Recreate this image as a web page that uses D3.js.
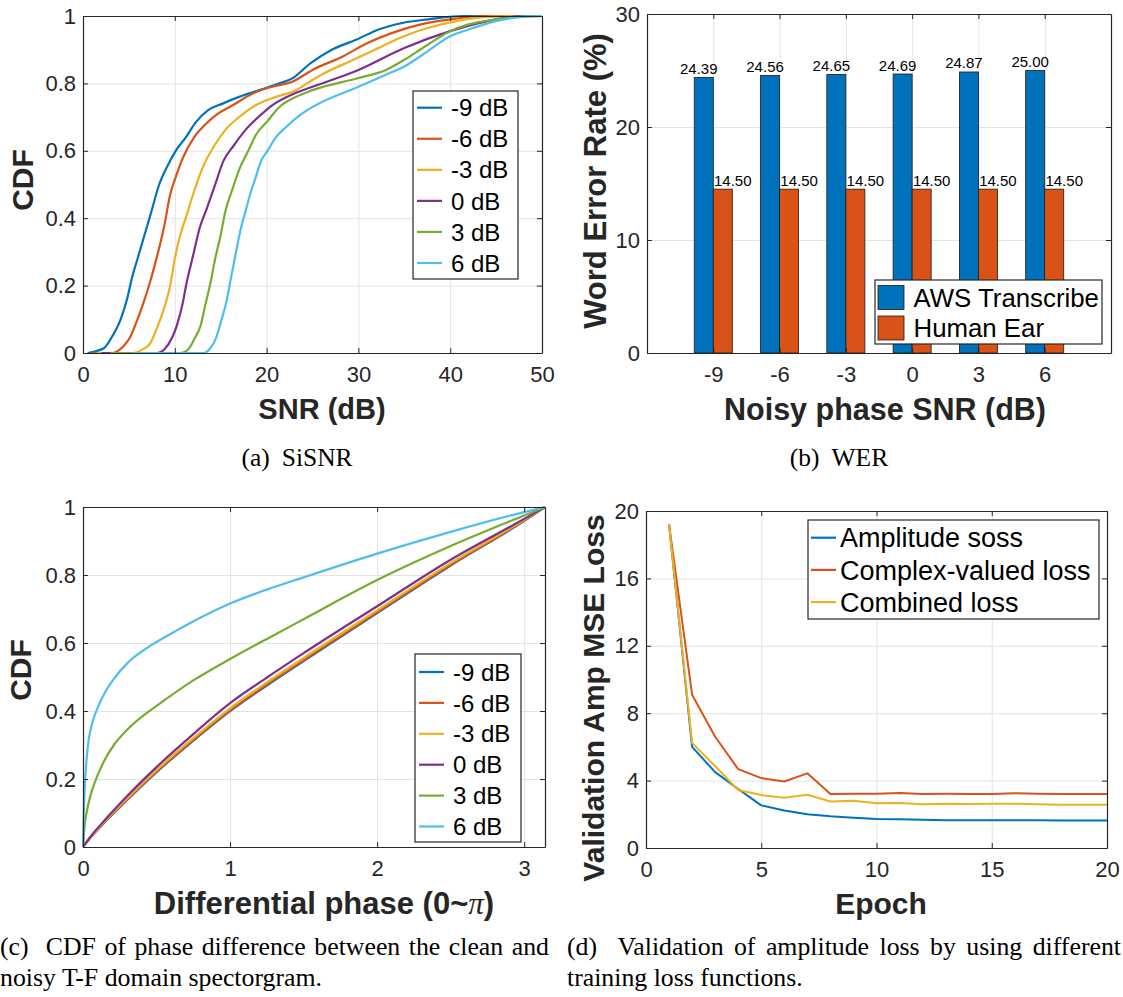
<!DOCTYPE html>
<html>
<head>
<meta charset="utf-8">
<script src="https://cdn.jsdelivr.net/npm/d3@7"></script>
<style>
  body { margin: 0; background: #fff; }
  svg { display: block; }
</style>
</head>
<body>
<script>
// ---------------- data ----------------
const noiseLevels = ["-9 dB", "-6 dB", "-3 dB", "0 dB", "3 dB", "6 dB"];
const seriesColors = ["#0072BD", "#D95319", "#EDB120", "#7E2F8E", "#77AC30", "#4DBEEE"];

// (a) CDF of SiSNR (dB) for each noisy-phase level
const sisnrX_m9 = [0.5, 2.3, 3.2, 4.1, 4.8, 5.4, 6.0, 6.7, 7.4, 8.3, 9.2, 10.1, 11.2, 12.3, 13.6, 15.2, 17.0, 19.2, 21.4, 22.8, 24.8, 27.1, 29.8, 32.2, 34.9, 37.6, 41.5, 50];
const sisnrY_m9 = [0, 0.015, 0.05, 0.1, 0.16, 0.23, 0.285, 0.35, 0.415, 0.5, 0.555, 0.6, 0.64, 0.685, 0.72, 0.74, 0.76, 0.78, 0.8, 0.815, 0.86, 0.9, 0.93, 0.96, 0.98, 0.99, 1.0, 1];
const sisnrX_m6 = [1.0, 3.2, 4.4, 5.1, 5.8, 6.6, 7.3, 8.0, 8.8, 9.5, 10.2, 10.9, 12.1, 13.4, 14.7, 16.3, 18.5, 20.6, 22.8, 25.0, 28.3, 31.0, 33.7, 36.8, 40.0, 43.9, 50];
const sisnrY_m6 = [0, 0, 0.02, 0.045, 0.09, 0.15, 0.21, 0.28, 0.37, 0.47, 0.53, 0.58, 0.64, 0.68, 0.71, 0.735, 0.77, 0.79, 0.805, 0.84, 0.88, 0.92, 0.95, 0.975, 0.99, 1.0, 1];
const sisnrX_m3 = [1.5, 5.5, 6.6, 7.3, 8.0, 8.8, 9.5, 10.0, 10.6, 11.3, 12.1, 13.2, 14.3, 15.6, 17.0, 18.8, 21.0, 23.2, 25.0, 26.0, 29.1, 31.8, 34.5, 37.6, 40.7, 44.6, 50];
const sisnrY_m3 = [0, 0, 0.012, 0.028, 0.07, 0.13, 0.2, 0.28, 0.35, 0.41, 0.48, 0.56, 0.615, 0.665, 0.7, 0.735, 0.76, 0.78, 0.81, 0.826, 0.866, 0.9, 0.935, 0.965, 0.985, 0.998, 1];
const sisnrX_0 = [2.0, 8.0, 8.9, 9.7, 10.2, 10.8, 11.3, 12.0, 12.7, 13.5, 14.4, 15.3, 16.4, 17.8, 19.3, 20.6, 22.6, 25.0, 30.0, 35.0, 40.0, 45.0, 48.0, 50];
const sisnrY_0 = [0, 0, 0.012, 0.045, 0.08, 0.14, 0.21, 0.29, 0.37, 0.43, 0.5, 0.57, 0.615, 0.665, 0.705, 0.735, 0.765, 0.79, 0.84, 0.905, 0.955, 0.99, 1.0, 1];
const sisnrX_p3 = [3.0, 10.6, 11.5, 12.2, 12.8, 13.3, 13.9, 14.4, 15.0, 15.5, 16.2, 17.1, 18.0, 18.9, 20.0, 21.4, 23.2, 25.0, 30.0, 33.0, 35.0, 37.0, 40.0, 42.0, 45.0, 48.0, 50];
const sisnrY_p3 = [0, 0, 0.012, 0.045, 0.08, 0.14, 0.21, 0.28, 0.35, 0.42, 0.48, 0.55, 0.6, 0.65, 0.685, 0.73, 0.76, 0.78, 0.816, 0.84, 0.87, 0.905, 0.955, 0.975, 0.99, 0.998, 1];
const sisnrX_p6 = [5.5, 13.1, 13.8, 14.5, 15.0, 15.6, 16.1, 16.6, 17.2, 17.7, 18.3, 18.8, 19.4, 20.1, 21.0, 22.1, 23.6, 25.0, 30.0, 33.0, 35.0, 37.0, 40.0, 42.0, 45.0, 48.0, 50];
const sisnrY_p6 = [0, 0, 0.012, 0.045, 0.09, 0.15, 0.22, 0.29, 0.37, 0.42, 0.48, 0.52, 0.57, 0.6, 0.64, 0.67, 0.705, 0.73, 0.79, 0.826, 0.85, 0.885, 0.94, 0.96, 0.985, 0.998, 1];

// (b) word error rate (%)
const werCategories = ["-9", "-6", "-3", "0", "3", "6"];
const werAws = [24.39, 24.56, 24.65, 24.69, 24.87, 25.00];
const werHuman = [14.50, 14.50, 14.50, 14.50, 14.50, 14.50];
const werSeriesNames = ["AWS Transcribe", "Human Ear"];

// (c) CDF of the differential phase (rad)
const phaseX = [0, 0.05, 0.15, 0.3, 0.5, 0.75, 1.0, 1.25, 1.5, 2.0, 2.5, 3.0, Math.PI];
const phaseY_m9 = [0, 0.027, 0.074, 0.138, 0.22, 0.313, 0.4, 0.475, 0.547, 0.688, 0.828, 0.959, 1];
const phaseY_m6 = [0, 0.028, 0.075, 0.14, 0.222, 0.315, 0.402, 0.478, 0.55, 0.69, 0.83, 0.96, 1];
const phaseY_m3 = [0, 0.029, 0.077, 0.143, 0.226, 0.32, 0.408, 0.484, 0.556, 0.696, 0.835, 0.962, 1];
const phaseY_0 = [0, 0.03, 0.08, 0.15, 0.235, 0.332, 0.423, 0.498, 0.57, 0.708, 0.845, 0.965, 1];
const phaseX_p3 = [0, 0.01, 0.024, 0.05, 0.08, 0.14, 0.21, 0.3, 0.4, 0.5, 0.75, 1.0, 1.25, 1.5, 2.0, 2.5, 3.0, Math.PI];
const phaseY_p3 = [0, 0.06, 0.1, 0.15, 0.19, 0.25, 0.3, 0.345, 0.383, 0.415, 0.49, 0.553, 0.612, 0.67, 0.785, 0.885, 0.975, 1];
const phaseX_p6 = [0, 0.005, 0.015, 0.034, 0.06, 0.1, 0.15, 0.22, 0.3, 0.4, 0.5, 0.65, 0.8, 1.0, 1.25, 1.5, 2.0, 2.5, 3.0, Math.PI];
const phaseY_p6 = [0, 0.1, 0.2, 0.3, 0.36, 0.41, 0.455, 0.5, 0.54, 0.575, 0.603, 0.64, 0.675, 0.716, 0.757, 0.793, 0.863, 0.927, 0.985, 1];

// (d) validation amplitude MSE loss per epoch
const epochs = [1, 2, 3, 4, 5, 6, 7, 8, 9, 10, 11, 12, 13, 14, 15, 16, 17, 18, 19, 20];
const lossAmplitude = [19.2, 6.0, 4.5, 3.5, 2.53, 2.23, 2.0, 1.88, 1.8, 1.72, 1.7, 1.67, 1.65, 1.65, 1.65, 1.64, 1.64, 1.63, 1.63, 1.63];
const lossComplex = [19.2, 9.1, 6.6, 4.68, 4.15, 3.95, 4.43, 3.2, 3.22, 3.22, 3.27, 3.2, 3.22, 3.21, 3.2, 3.25, 3.22, 3.21, 3.21, 3.21];
const lossCombined = [19.2, 6.24, 4.85, 3.44, 3.14, 2.98, 3.16, 2.76, 2.8, 2.66, 2.67, 2.6, 2.63, 2.61, 2.63, 2.62, 2.6, 2.56, 2.56, 2.57];
const lossNames = ["Amplitude soss", "Complex-valued loss", "Combined loss"];

// tick values
const sisnrTicks = [0, 10, 20, 30, 40, 50];
const cdfTicks = [0, 0.2, 0.4, 0.6, 0.8, 1];
const werTicks = [0, 10, 20, 30];
const werPositions = [1, 2, 3, 4, 5, 6];
const phaseTicks = [0, 1, 2, 3];
const epochTicks = [0, 5, 10, 15, 20];
const lossTicks = [0, 4, 8, 12, 16, 20];

// ---------------- drawing ----------------
const SANS = "'Liberation Sans', Arial, Helvetica, sans-serif";
const SERIF = "'Liberation Serif', 'Times New Roman', serif";
const AX = "#262626";
const GRID = "#e3e3e3";

const svg = d3.select("body").append("svg")
  .attr("width", 1123).attr("height", 997)
  .attr("font-family", SANS);

function makePanel(box, xDomain, yDomain, xTicks, yTicks) {
  const g = svg.append("g");
  const x = d3.scaleLinear().domain(xDomain).range([box.l, box.r]);
  const y = d3.scaleLinear().domain(yDomain).range([box.b, box.t]);
  const h = box.b - box.t, w = box.r - box.l;
  g.append("rect").attr("x", box.l).attr("y", box.t).attr("width", w).attr("height", h).attr("fill", "#fff");
  // grid
  g.append("g").attr("transform", `translate(0,${box.b})`)
    .call(d3.axisBottom(x).tickValues(xTicks).tickSize(-h).tickFormat(""))
    .call(s => s.select(".domain").remove())
    .call(s => s.selectAll("line").attr("stroke", GRID).attr("stroke-width", 1));
  g.append("g").attr("transform", `translate(${box.l},0)`)
    .call(d3.axisLeft(y).tickValues(yTicks).tickSize(-w).tickFormat(""))
    .call(s => s.select(".domain").remove())
    .call(s => s.selectAll("line").attr("stroke", GRID).attr("stroke-width", 1));
  return { g, x, y, box };
}

function drawFrame(p, xTicks, yTicks, xFmt, yFmt) {
  const { g, x, y, box } = p;
  const tk = 5;
  const style = s => {
    s.select(".domain").attr("stroke", AX).attr("stroke-width", 1.2);
    s.selectAll(".tick line").attr("stroke", AX).attr("stroke-width", 1);
    s.selectAll(".tick text").attr("fill", AX).attr("font-size", 22).attr("font-family", SANS);
  };
  g.append("g").attr("transform", `translate(0,${box.b})`)
    .call(d3.axisBottom(x).tickValues(xTicks).tickSizeInner(-tk).tickSizeOuter(0).tickPadding(13).tickFormat(xFmt))
    .call(style);
  g.append("g").attr("transform", `translate(0,${box.t})`)
    .call(d3.axisTop(x).tickValues(xTicks).tickSizeInner(-tk).tickSizeOuter(0).tickFormat(""))
    .call(style);
  g.append("g").attr("transform", `translate(${box.l},0)`)
    .call(d3.axisLeft(y).tickValues(yTicks).tickSizeInner(-tk).tickSizeOuter(0).tickPadding(7).tickFormat(yFmt))
    .call(style);
  g.append("g").attr("transform", `translate(${box.r},0)`)
    .call(d3.axisRight(y).tickValues(yTicks).tickSizeInner(-tk).tickSizeOuter(0).tickFormat(""))
    .call(style);
}

function xTitle(text, cx, baseline, size) {
  return svg.append("text").attr("x", cx).attr("y", baseline)
    .attr("text-anchor", "middle").attr("font-weight", "bold")
    .attr("font-size", size).attr("fill", AX).text(text);
}
function yTitle(text, bx, cy, size) {
  return svg.append("text").attr("transform", `translate(${bx},${cy}) rotate(-90)`)
    .attr("text-anchor", "middle").attr("font-weight", "bold")
    .attr("font-size", size).attr("fill", AX).text(text);
}

function lineLegend(box, names, colors, rowStep, fontSize, sample) {
  const g = svg.append("g");
  g.append("rect").attr("x", box.x).attr("y", box.y).attr("width", box.w).attr("height", box.h)
    .attr("fill", "#fff").attr("stroke", AX).attr("stroke-width", 1.2);
  names.forEach((n, i) => {
    const cy = box.firstRow + i * rowStep;
    g.append("line").attr("x1", sample[0]).attr("x2", sample[1]).attr("y1", cy).attr("y2", cy)
      .attr("stroke", colors[i]).attr("stroke-width", 2.2);
    g.append("text").attr("x", sample[2]).attr("y", cy + fontSize * 0.36)
      .attr("font-size", fontSize).attr("fill", "#000").text(n);
  });
}

// justified caption lines
function caption(lines, x, baselines, width, size) {
  lines.forEach((ln, i) => {
    const t = svg.append("text").attr("x", x).attr("y", baselines[i])
      .attr("font-family", SERIF).attr("font-size", size).attr("fill", "#000")
      .attr("xml:space", "preserve").text(ln);
    if (width && i < lines.length - 1) {
      const natural = t.node().getComputedTextLength();
      const gaps = (ln.match(/ /g) || []).length;
      if (gaps > 0 && natural < width) t.attr("word-spacing", (width - natural) / gaps);
    }
  });
}

// ---------- (a) SiSNR ----------
const pa = makePanel({ l: 83, r: 542, t: 16, b: 353 }, [0, 50], [0, 1], sisnrTicks, cdfTicks);
const sisnrSeries = [
  [sisnrX_m9, sisnrY_m9], [sisnrX_m6, sisnrY_m6], [sisnrX_m3, sisnrY_m3],
  [sisnrX_0, sisnrY_0], [sisnrX_p3, sisnrY_p3], [sisnrX_p6, sisnrY_p6]
];
const lineA = d3.line().x(d => pa.x(d[0])).y(d => pa.y(d[1])).curve(d3.curveMonotoneX);
sisnrSeries.forEach(([xs, ys], i) => {
  pa.g.append("path").datum(xs.map((v, k) => [v, ys[k]]))
    .attr("d", lineA).attr("fill", "none").attr("stroke", seriesColors[i]).attr("stroke-width", 2.2);
});
drawFrame(pa, sisnrTicks, cdfTicks, d => String(d), d => String(d));
lineLegend({ x: 413, y: 91, w: 105, h: 188, firstRow: 107.7 }, noiseLevels, seriesColors, 31.06, 24, [417, 442, 451]);
xTitle("SNR (dB)", 322, 419, 29);
yTitle("CDF", 33, 180, 30);

// ---------- (b) WER ----------
const pb = makePanel({ l: 647, r: 1111, t: 14, b: 353 }, [0, 7], [0, 30], werPositions, [10, 20]);
const barW = 0.287;
const barData = [];
werAws.forEach((v, i) => barData.push({ pos: werPositions[i] - barW, v, c: seriesColors[0], dx: -5 }));
werHuman.forEach((v, i) => barData.push({ pos: werPositions[i], v, c: seriesColors[1], dx: 10 }));
pb.g.selectAll("rect.bar").data(barData).join("rect").attr("class", "bar")
  .attr("x", d => pb.x(d.pos)).attr("y", d => pb.y(d.v))
  .attr("width", d => pb.x(d.pos + barW) - pb.x(d.pos)).attr("height", d => pb.y(0) - pb.y(d.v))
  .attr("fill", d => d.c).attr("stroke", "#1a1a1a").attr("stroke-width", 0.8);
pb.g.selectAll("text.val").data(barData).join("text").attr("class", "val")
  .attr("x", d => pb.x(d.pos + barW / 2) + d.dx).attr("y", d => pb.y(d.v) - 3.5)
  .attr("text-anchor", "middle").attr("font-size", 15).attr("fill", "#000")
  .text(d => d.v.toFixed(2));
drawFrame(pb, werPositions, werTicks, d => werCategories[d - 1], d => String(d));
{
  const g = svg.append("g");
  g.append("rect").attr("x", 875).attr("y", 280).attr("width", 227).attr("height", 64)
    .attr("fill", "#fff").attr("stroke", AX).attr("stroke-width", 1.2);
  werSeriesNames.forEach((n, i) => {
    const top = 285.5 + i * 30.5;
    g.append("rect").attr("x", 878).attr("y", top).attr("width", 26).attr("height", 24)
      .attr("fill", seriesColors[i]).attr("stroke", "#1a1a1a").attr("stroke-width", 0.8);
    g.append("text").attr("x", 913.5).attr("y", top + 12 + 9).attr("font-size", 25.8).attr("fill", "#000").text(n);
  });
}
xTitle("Noisy phase SNR (dB)", 885, 420, 30.5);
yTitle("Word Error Rate (%)", 606, 181, 31);

// ---------- (c) differential phase ----------
const pc = makePanel({ l: 83, r: 545, t: 507, b: 847 }, [0, Math.PI], [0, 1], phaseTicks, cdfTicks);
const phaseSeries = [
  [phaseX, phaseY_m9], [phaseX, phaseY_m6], [phaseX, phaseY_m3],
  [phaseX, phaseY_0], [phaseX_p3, phaseY_p3], [phaseX_p6, phaseY_p6]
];
const lineC = d3.line().x(d => pc.x(d[0])).y(d => pc.y(d[1])).curve(d3.curveMonotoneX);
phaseSeries.forEach(([xs, ys], i) => {
  pc.g.append("path").datum(xs.map((v, k) => [v, ys[k]]))
    .attr("d", lineC).attr("fill", "none").attr("stroke", seriesColors[i]).attr("stroke-width", 2.2);
});
drawFrame(pc, phaseTicks, cdfTicks, d => String(d), d => String(d));
lineLegend({ x: 415, y: 654, w: 106, h: 188, firstRow: 672 }, noiseLevels, seriesColors, 30.9, 24, [419, 444, 453]);
{
  const t = xTitle("", 324, 914, 31);
  t.append("tspan").text("Differential phase (0~");
  t.append("tspan").attr("font-family", SERIF).attr("font-style", "italic").attr("font-weight", "normal").text("\u03C0");
  t.append("tspan").text(")");
}
yTitle("CDF", 31, 670, 30);

// ---------- (d) validation loss ----------
const pd = makePanel({ l: 646, r: 1107, t: 511, b: 848 }, [0, 20], [0, 20], epochTicks, lossTicks);
const lineD = d3.line().x(d => pd.x(d[0])).y(d => pd.y(d[1]));
[lossAmplitude, lossComplex, lossCombined].forEach((ys, i) => {
  pd.g.append("path").datum(epochs.map((e, k) => [e, ys[k]]))
    .attr("d", lineD).attr("fill", "none").attr("stroke", seriesColors[i])
    .attr("stroke-width", 2).attr("stroke-linejoin", "round");
});
drawFrame(pd, epochTicks, lossTicks, d => String(d), d => String(d));
lineLegend({ x: 808, y: 520, w: 291, h: 99, firstRow: 537.7 }, lossNames, seriesColors.slice(0, 3), 32.2, 27, [811, 836, 840]);
xTitle("Epoch", 881, 914, 30);
yTitle("Validation Amp MSE Loss", 604, 698, 30);

// ---------- captions ----------
{
  const ca = svg.append("text").attr("x", 297).attr("y", 466).attr("text-anchor", "middle")
    .attr("font-family", SERIF).attr("font-size", 25.5).attr("fill", "#000");
  ca.append("tspan").text("(a)");
  ca.append("tspan").attr("dx", 12).text("SiSNR");
  const cb = svg.append("text").attr("x", 839).attr("y", 466).attr("text-anchor", "middle")
    .attr("font-family", SERIF).attr("font-size", 25.5).attr("fill", "#000");
  cb.append("tspan").text("(b)");
  cb.append("tspan").attr("dx", 12).text("WER");
}
caption(["(c)  CDF of phase difference between the clean and", "noisy T-F domain spectorgram."], 0, [955, 986], 549, 25.8);
caption(["(d)  Validation of amplitude loss by using different", "training loss functions."], 567, [955, 986], 554, 25.8);
</script>
</body>
</html>
